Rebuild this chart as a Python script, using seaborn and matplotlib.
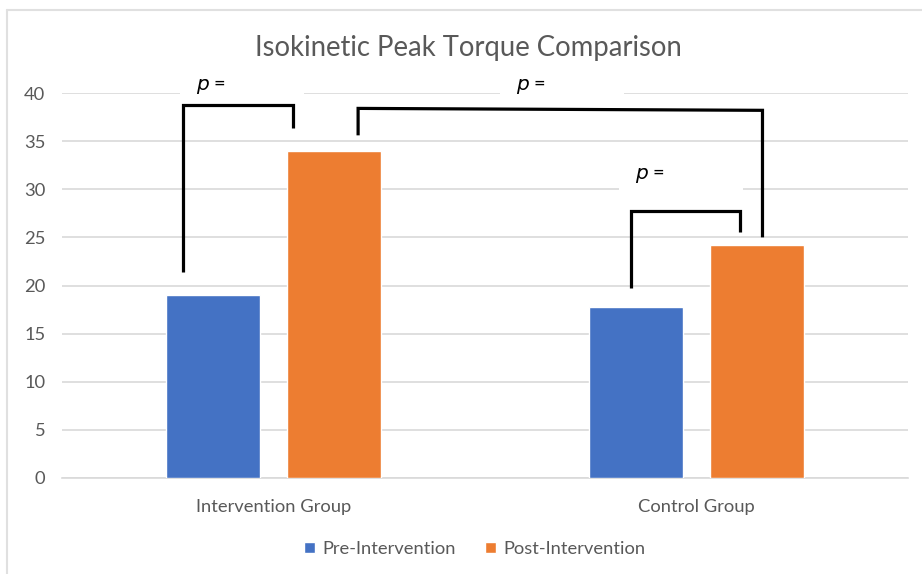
import numpy as np
import pandas as pd
import seaborn as sns
import matplotlib.pyplot as plt
from matplotlib.patches import Rectangle

# values
groups = ['Intervention Group', 'Control Group']
phases = ['Pre-Intervention', 'Post-Intervention']
pre_vals = [19.0, 17.8]
post_vals = [34.0, 24.2]
y_ticks = [0, 5, 10, 15, 20, 25, 30, 35, 40]

df = pd.DataFrame({
    'group': groups * 2,
    'phase': [phases[0]] * 2 + [phases[1]] * 2,
    'torque': pre_vals + post_vals,
})

sns.set_theme(style='white')
plt.rcParams['font.family'] = ['Lato', 'DejaVu Sans']
grey = '#595959'
pal = {'Pre-Intervention': '#4472C4', 'Post-Intervention': '#ED7D31'}

fig = plt.figure(figsize=(9.22, 5.74), dpi=100)
ax = fig.add_axes([62 / 922, 1 - 478 / 574, 846 / 922, 385 / 574])

sns.barplot(data=df, x='group', y='torque', hue='phase', order=groups,
            hue_order=phases, palette=pal, width=0.572, gap=0.22,
            saturation=1, ax=ax, zorder=3)

ax.set_ylim(0, 40)
ax.set_xlim(-0.5, 1.5)
ax.set_yticks(y_ticks)
ax.yaxis.grid(True, color='#D9D9D9', linewidth=1.2, zorder=0)
ax.set_axisbelow(True)
for s in ['top', 'right', 'left']:
    ax.spines[s].set_visible(False)
ax.spines['bottom'].set_color('#D9D9D9')
ax.spines['bottom'].set_linewidth(1.2)
ax.tick_params(axis='both', length=0, colors=grey, labelsize=13.2)
ax.tick_params(axis='x', pad=15)
ax.tick_params(axis='y', pad=12)
ax.set_xlabel('')
ax.set_ylabel('')

fig.text(0.508, 1 - 48 / 574, 'Isokinetic Peak Torque Comparison', ha='center',
         va='center', fontsize=19.8, color=grey)

# significance brackets (data coords)
brackets = [
    ([-0.215, -0.215, 0.045, 0.045], [21.4, 38.75, 38.75, 36.4]),
    ([0.20, 0.20, 1.156, 1.156], [35.6, 38.4, 38.2, 25.0]),
    ([0.844, 0.844, 1.104, 1.104], [19.7, 27.7, 27.7, 25.6]),
]
for bx, by in brackets:
    ax.plot(bx, by, color='black', linewidth=2.3, clip_on=False, zorder=6,
            solid_capstyle='butt', solid_joinstyle='miter')

# p labels sit on white boxes that hide the gridlines
p_boxes = [(-0.222, 39.2), (0.535, 39.2), (0.816, 29.9)]
for bx, by in p_boxes:
    ax.add_patch(Rectangle((bx, by), 0.293, 3.2, facecolor='white',
                           edgecolor='none', zorder=4, clip_on=False))
    ax.text(bx + 0.038, by + 1.5, '$p$ =', fontsize=14.5, color='black',
            va='center', ha='left', zorder=7, clip_on=False)

leg = ax.legend(loc='center', bbox_to_anchor=(0.488, (1 - 549 / 574 - (1 - 478 / 574)) / (385 / 574)),
                ncol=2, frameon=False, fontsize=13.2, handlelength=0.6,
                handleheight=0.6, columnspacing=1.6, handletextpad=0.4)
for t in leg.get_texts():
    t.set_color(grey)

# faint outer border like the source image
fig.add_artist(plt.Line2D([7 / 922, 7 / 922], [0, 1 - 10 / 574], transform=fig.transFigure,
                          color='#E0E0E0', linewidth=1.5))
fig.add_artist(plt.Line2D([7 / 922, 1], [1 - 10 / 574, 1 - 10 / 574], transform=fig.transFigure,
                          color='#E0E0E0', linewidth=1.5))

fig.savefig('out.png', dpi=100)
